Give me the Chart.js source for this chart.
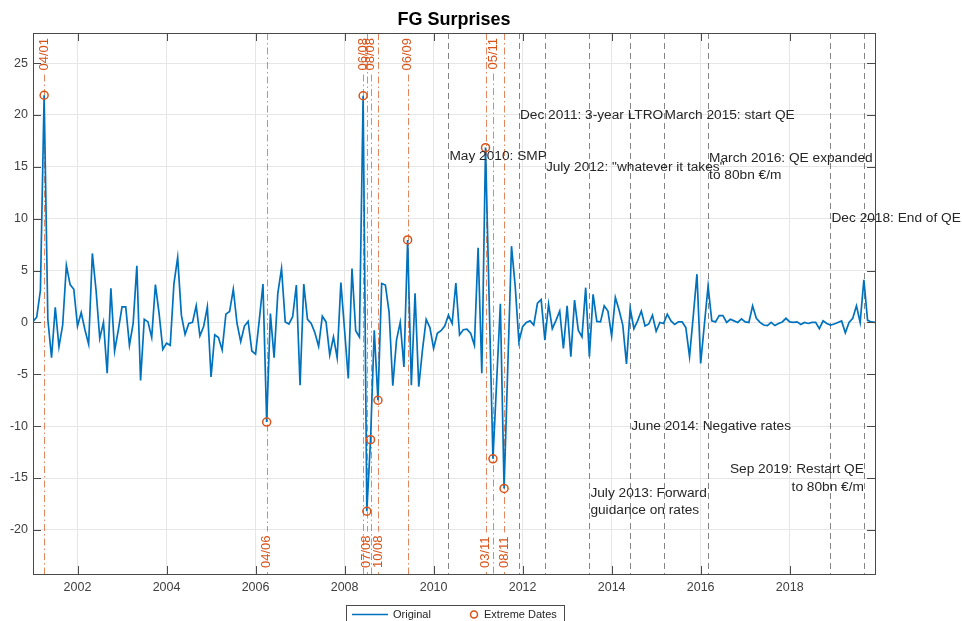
<!DOCTYPE html>
<html>
<head>
<meta charset="utf-8">
<title>FG Surprises</title>
<script src="https://cdn.jsdelivr.net/npm/chart.js@4.4.1/dist/chart.umd.min.js"></script>
<style>
  html, body { margin: 0; padding: 0; background: #ffffff; }
  #wrap { width: 962px; height: 621px; }
</style>
</head>
<body>
<div id="wrap"><canvas id="c" width="962" height="621"></canvas></div>
<script>
// ---------------- DATA ----------------
const startYear = 2001;           // first month: Jan 2001 (monthly series)
const fgSurprise = [
  // 2001
  0.1, 0.5, 3.1, 21.9, 0.3, -3.4, 1.45, -2.35, -0.25, 5.5, 3.65, 3.2,
  // 2002
  -0.35, 0.95, -0.7, -2.1, 6.65, 3.1, -1.55, 0.0, -4.9, 3.3, -2.75, -0.75,
  // 2003
  1.5, 1.5, -2.2, -0.1, 5.45, -5.6, 0.3, 0.05, -1.45, 3.65, 0.85, -2.6,
  // 2004
  -2.0, -2.2, 3.75, 6.25, 0.7, -1.15, -0.1, 0.0, 1.6, -1.3, -0.4, 1.5,
  // 2005
  -5.25, -1.2, -1.45, -2.65, 0.8, 1.05, 3.2, -0.1, -1.85, -0.35, 0.1, -2.75,
  // 2006
  -3.05, 0.2, 3.7, -9.6, 0.85, -3.4, 2.8, 5.2, 0.05, -0.15, 0.55, 3.6,
  // 2007
  -6.05, 3.7, 0.3, -0.1, -1.0, -2.3, 0.6, 0.05, -3.15, -1.4, -3.4, 3.85,
  // 2008
  -0.75, -5.4, 5.2, -0.8, -1.4, 21.85, -18.2, -11.3, -0.75, -7.5, 3.75, 3.6,
  // 2009
  1.0, -6.1, -1.7, 0.0, -4.3, 7.95, -6.05, 2.8, -6.2, -2.65, 0.3, -0.5,
  // 2010
  -2.5, -1.05, -0.8, -0.35, 0.7, -0.1, 3.8, -1.2, -0.7, -0.65, -1.05, -2.2,
  // 2011
  7.2, -4.9, 16.85, 1.8, -13.15, -5.7, 1.8, -16.0, -4.3, 7.35, 3.5, -1.85,
  // 2012
  -0.4, 0.0, 0.15, -0.25, 1.85, 2.2, -1.7, 1.75, -0.6, 0.2, 1.1, -2.5,
  // 2013
  1.6, -3.3, 2.15, -0.75, -1.4, 3.35, -3.3, 2.7, 0.1, 0.05, 1.6, 1.1,
  // 2014
  -1.3, 2.4, 1.2, -0.25, -4.0, 1.35, -0.6, 0.15, 1.1, -0.35, -0.15, 0.7,
  // 2015
  -0.85, 0.0, -0.1, 0.8, 0.15, -0.2, 0.05, 0.05, -0.5, -3.3, 0.6, 4.65,
  // 2016
  -3.95, -0.2, 3.5, 0.15, 0.05, 0.65, 0.65, 0.0, 0.3, 0.15, 0.0, 0.35,
  // 2017
  0.05, 0.0, 1.6, 0.4, 0.0, -0.25, -0.3, 0.0, -0.3, -0.1, 0.05, 0.4,
  // 2018
  0.05, 0.0, 0.05, -0.2, 0.0, -0.1, 0.0, 0.0, -0.6, 0.15, -0.1, -0.25,
  // 2019
  -0.15, 0.0, 0.15, -1.0, 0.0, 0.4, 1.6, 0.0, 4.1, 0.2, 0.05, 0.0
];

// extreme dates (year, month) and their labels
const extremeYear   = [2001, 2006, 2008, 2008, 2008, 2008, 2009, 2011, 2011, 2011];
const extremeMonth  = [4, 4, 6, 7, 8, 10, 6, 3, 5, 8];
const extremeLabels = ["04/01", "04/06", "06/08", "07/08", "08/08", "10/08", "06/09", "03/11", "05/11", "08/11"];

// policy events (year, month), annotation text and annotation height
const eventYear   = [2010, 2011, 2012, 2013, 2014, 2015, 2016, 2018, 2019];
const eventMonth  = [5, 12, 7, 7, 6, 3, 3, 12, 9];
const eventLabels = [
  ["May 2010: SMP"],
  ["Dec 2011: 3-year LTRO"],
  ["July 2012: \"whatever it takes\""],
  ["July 2013: Forward", "guidance on rates"],
  ["June 2014: Negative rates"],
  ["March 2015: start QE"],
  ["March 2016: QE expanded", "to 80bn \u20AC/m"],
  ["Dec 2018: End of QE"],
  ["Sep 2019: Restart QE", "to 80bn \u20AC/m"]
];
const eventTextY  = [16, 20, 15, -17.3, -10, 20, 15, 10, -15];
const eventAlign  = ["left", "left", "left", "left", "left", "left", "left", "left", "right"];

const xTickValues = [2002, 2004, 2006, 2008, 2010, 2012, 2014, 2016, 2018];
const yTickValues = [-20, -15, -10, -5, 0, 5, 10, 15, 20, 25];

const titleText = "FG Surprises";
const seriesNames = ["Original", "Extreme Dates"];

// ---------------- BUILD ----------------
const toT = (y, m) => y + (m - 1) / 12;
const seriesPoints = fgSurprise.map((v, i) => ({ x: startYear + i / 12, y: v }));
const extremeIdx = extremeYear.map((y, k) => (y - startYear) * 12 + (extremeMonth[k] - 1));
const extremePoints = extremeIdx.map(i => ({ x: startYear + i / 12, y: fgSurprise[i] }));

const BLUE = '#0072BD';
const ORANGE = '#D95319';
const TXT = '#262626';
const FONT = '"Liberation Sans", Arial, Helvetica, sans-serif';
Chart.defaults.font.family = FONT;

const decorPlugin = {
  id: 'decor',
  beforeDatasetsDraw(chart) {
    const { ctx, chartArea: { top, bottom, left, right } } = chart;
    const xs = chart.scales.x;
    ctx.save();
    ctx.beginPath();
    ctx.rect(left, top, right - left, bottom - top);
    ctx.clip();
    // event lines
    ctx.strokeStyle = 'rgba(80,80,80,0.7)';
    ctx.lineWidth = 1;
    ctx.setLineDash([6, 4]);
    eventYear.forEach((y, k) => {
      const x = Math.round(xs.getPixelForValue(toT(y, eventMonth[k]))) + 0.5;
      ctx.beginPath(); ctx.moveTo(x, top); ctx.lineTo(x, bottom); ctx.stroke();
    });
    // extreme lines with gap for labels
    ctx.strokeStyle = 'rgba(217,83,25,0.7)';
    ctx.setLineDash([7, 3, 1.5, 3]);
    ctx.font = '13px ' + FONT;
    extremePoints.forEach((p, k) => {
      const x = Math.round(xs.getPixelForValue(p.x)) + 0.5;
      const w = ctx.measureText(extremeLabels[k]).width;
      let segs;
      if (k % 2 === 0) segs = [[top + 5 + w + 4, bottom]];
      else segs = [[top, bottom - 6 - w - 4], [bottom - 2, bottom]];
      segs.forEach(s => { ctx.beginPath(); ctx.moveTo(x, s[0]); ctx.lineTo(x, s[1]); ctx.stroke(); });
    });
    ctx.restore();
  },
  afterDatasetsDraw(chart) {
    const { ctx, chartArea: { top, bottom, left, right } } = chart;
    const xs = chart.scales.x, ys = chart.scales.y;
    ctx.save();
    // extreme labels (rotated)
    ctx.font = '13px ' + FONT;
    ctx.fillStyle = ORANGE;
    ctx.textBaseline = 'middle';
    extremePoints.forEach((p, k) => {
      const x = xs.getPixelForValue(p.x);
      ctx.save();
      if (k % 2 === 0) {
        ctx.translate(x, top + 5);
        ctx.rotate(-Math.PI / 2);
        ctx.textAlign = 'right';
      } else {
        ctx.translate(x, bottom - 6);
        ctx.rotate(-Math.PI / 2);
        ctx.textAlign = 'left';
      }
      ctx.fillText(extremeLabels[k], 0, 0);
      ctx.restore();
    });
    // event annotations
    ctx.font = '13.7px ' + FONT;
    ctx.fillStyle = TXT;
    ctx.textBaseline = 'middle';
    const lh = 17.5;
    eventYear.forEach((y, k) => {
      const x = xs.getPixelForValue(toT(y, eventMonth[k]));
      const yc = ys.getPixelForValue(eventTextY[k]);
      const lines = eventLabels[k];
      const y0 = yc - (lines.length - 1) * lh / 2;
      ctx.textAlign = eventAlign[k];
      const xx = eventAlign[k] === 'left' ? x + 1 : x;
      lines.forEach((t, j) => ctx.fillText(t, xx, y0 + j * lh));
    });
    ctx.restore();
  },
  afterDraw(chart) {
    const { ctx, chartArea: { top, bottom, left, right } } = chart;
    const xs = chart.scales.x, ys = chart.scales.y;
    ctx.save();
    // box
    ctx.strokeStyle = '#4a4a4a';
    ctx.lineWidth = 1;
    ctx.strokeRect(Math.round(left) + 0.5, Math.round(top) + 0.5, Math.round(right - left), Math.round(bottom - top));
    // inward ticks
    const tl = 8;
    ctx.beginPath();
    xTickValues.forEach(v => {
      const x = Math.round(xs.getPixelForValue(v)) + 0.5;
      ctx.moveTo(x, bottom); ctx.lineTo(x, bottom - tl);
      ctx.moveTo(x, top); ctx.lineTo(x, top + tl);
    });
    yTickValues.forEach(v => {
      const y = Math.round(ys.getPixelForValue(v)) + 0.5;
      ctx.moveTo(left, y); ctx.lineTo(left + tl, y);
      ctx.moveTo(right, y); ctx.lineTo(right - tl, y);
    });
    ctx.stroke();
    // title
    ctx.fillStyle = '#000000';
    ctx.font = 'bold 18px ' + FONT;
    ctx.textAlign = 'center';
    ctx.textBaseline = 'middle';
    const cx = (left + right) / 2;
    ctx.fillText(titleText, cx, 20);
    // legend
    ctx.font = '11px ' + FONT;
    ctx.textAlign = 'left';
    const bx = cx - 108, by = 605, bw = 218, bh = 22;
    ctx.fillStyle = '#ffffff';
    ctx.fillRect(bx, by, bw, bh);
    ctx.strokeStyle = '#4a4a4a';
    ctx.lineWidth = 1;
    ctx.strokeRect(Math.round(bx) + 0.5, by + 0.5, bw, bh);
    const ly = 614.5;
    ctx.strokeStyle = BLUE; ctx.lineWidth = 1.5;
    ctx.beginPath(); ctx.moveTo(bx + 6, ly); ctx.lineTo(bx + 42, ly); ctx.stroke();
    ctx.fillStyle = TXT;
    ctx.fillText(seriesNames[0], bx + 47, ly);
    ctx.strokeStyle = ORANGE; ctx.lineWidth = 1.5;
    ctx.beginPath(); ctx.arc(bx + 128, ly, 3.5, 0, Math.PI * 2); ctx.stroke();
    ctx.fillText(seriesNames[1], bx + 138, ly);
    ctx.restore();
  }
};

new Chart(document.getElementById('c'), {
  type: 'line',
  data: {
    datasets: [
      {
        label: seriesNames[0],
        data: seriesPoints,
        borderColor: BLUE,
        borderWidth: 1.7,
        pointRadius: 0,
        tension: 0,
        fill: false,
        order: 2
      },
      {
        label: seriesNames[1],
        data: extremePoints,
        showLine: false,
        pointRadius: 4,
        pointStyle: 'circle',
        pointBorderColor: ORANGE,
        pointBackgroundColor: 'rgba(0,0,0,0)',
        pointBorderWidth: 1.5,
        order: 1
      }
    ]
  },
  options: {
    responsive: false,
    animation: false,
    devicePixelRatio: 1,
    layout: { padding: { top: 33, left: 0, right: 87, bottom: 0 } },
    plugins: {
      legend: { display: false },
      title: { display: false },
      tooltip: { enabled: false }
    },
    scales: {
      x: {
        type: 'linear',
        min: 2001,
        max: 2019 + 11 / 12,
        afterBuildTicks: s => { s.ticks = xTickValues.map(v => ({ value: v })); },
        afterFit: s => { s.height = 47; },
        grid: { color: '#e6e6e6', drawTicks: false, lineWidth: 1 },
        border: { display: false },
        ticks: { color: '#404040', font: { size: 12.5 }, padding: 6, maxRotation: 0, callback: v => String(v) }
      },
      y: {
        type: 'linear',
        min: -24.25,
        max: 27.9,
        afterBuildTicks: s => { s.ticks = yTickValues.map(v => ({ value: v })); },
        afterFit: s => { s.width = 33; },
        grid: { color: '#e6e6e6', drawTicks: false, lineWidth: 1 },
        border: { display: false },
        ticks: { color: '#404040', font: { size: 12.5 }, padding: 5, callback: v => String(v) }
      }
    }
  },
  plugins: [decorPlugin]
});
</script>
</body>
</html>
